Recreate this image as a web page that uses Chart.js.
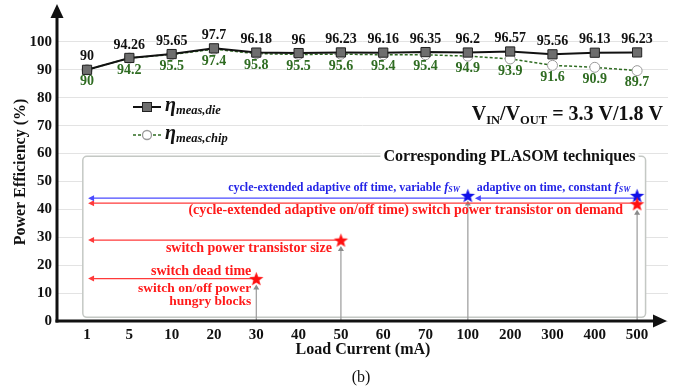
<!DOCTYPE html>
<html><head><meta charset="utf-8">
<script src="https://cdn.jsdelivr.net/npm/chart.js@4"></script>
<style>html,body{margin:0;padding:0;background:#fff;}#wrap{width:681px;height:389px;position:relative;}</style>
</head><body><div id="wrap"><canvas id="c" width="681" height="389" style="width:681px;height:389px"></canvas></div>
<script>
// ---- data ----
const categories = ['1','5','10','20','30','40','50','60','70','100','200','300','400','500'];
const dieValues  = [90,94.26,95.65,97.7,96.18,96,96.23,96.16,96.35,96.2,96.57,95.56,96.13,96.23];
const chipValues = [90,94.2,95.5,97.4,95.8,95.5,95.6,95.4,95.4,94.9,93.9,91.6,90.9,89.7];
const yTickValues = [0,10,20,30,40,50,60,70,80,90,100];
// PLASOM technique markers (stars)
const techCategory = ['30','50','100','500','500'];
const techValue    = [15.2,29,45,45,42];
const techGroup    = ['power','power','timing','timing','power'];
// horizontal arrows
const arrowFrom  = ['30','50','500','100','500'];
const arrowTo    = ['1','1','1','1','100'];
const arrowLevel = [15.2,29,42.2,44,44];
const arrowGroup = ['power','power','power','timing','timing'];

const SERIF = '"Liberation Serif","DejaVu Serif",serif';
const RED = '#ff1a1a', BLUE = '#2424e6', GREEN = '#2f6c22';

function makeStar(color, r){
  const c = document.createElement('canvas');
  c.width = c.height = Math.ceil(2*r+2);
  const g = c.getContext('2d');
  const cx = c.width/2, cy = c.height/2 + r*0.1;
  g.beginPath();
  for(let i=0;i<10;i++){
    const rr = i%2===0 ? r : r*0.42;
    const a = -Math.PI/2 + i*Math.PI/5;
    const px = cx + rr*Math.cos(a), py = cy + rr*Math.sin(a);
    i===0 ? g.moveTo(px,py) : g.lineTo(px,py);
  }
  g.closePath(); g.fillStyle = color; g.fill();
  return c;
}
const redStar = makeStar('#ff1010', 7.5);
const blueStar = makeStar('#1010e8', 7.5);

function rich(ctx, segs, x, y, align){
  let w = 0;
  segs.forEach(s=>{ctx.font = s.f; s.w = ctx.measureText(s.t).width; w += s.w;});
  let cx = align==='right' ? x - w : (align==='center' ? x - w/2 : x);
  ctx.textAlign = 'left';
  segs.forEach(s=>{ctx.font = s.f; ctx.fillText(s.t, cx, y + (s.dy||0)); cx += s.w;});
  return w;
}
function arrowHead(ctx, x, y, dir, len, half, color){
  ctx.fillStyle = color; ctx.beginPath();
  if(dir==='left'){ctx.moveTo(x,y);ctx.lineTo(x+len,y-half);ctx.lineTo(x+len,y+half);}
  else if(dir==='up'){ctx.moveTo(x,y);ctx.lineTo(x-half,y+len);ctx.lineTo(x+half,y+len);}
  else if(dir==='right'){ctx.moveTo(x,y);ctx.lineTo(x-len,y-half);ctx.lineTo(x-len,y+half);}
  ctx.closePath(); ctx.fill();
}
const idx = c => categories.indexOf(c);

const decor = {
  id:'decor',
  beforeDatasetsDraw(chart){
    const {ctx} = chart; const xs = chart.scales.x, ys = chart.scales.y;
    // box
    const L = xs.getPixelForValue(-0.1), R = xs.getPixelForValue(13.2);
    const T = ys.getPixelForValue(59), B = ys.getPixelForValue(1.3);
    ctx.save();
    ctx.fillStyle = '#fff'; ctx.strokeStyle = '#c4c8c4'; ctx.lineWidth = 1.5;
    ctx.beginPath(); ctx.roundRect(L,T,R-L,B-T,4); ctx.fill(); ctx.stroke();
    ctx.font = 'bold 16px '+SERIF;
    const title = 'Corresponding PLASOM techniques';
    const tw = ctx.measureText(title).width;
    ctx.fillStyle = '#fff'; ctx.fillRect(R-10-tw-3, T-8, tw+6, 16);
    ctx.fillStyle = '#111'; ctx.textAlign = 'right'; ctx.textBaseline = 'middle';
    ctx.fillText(title, R-10, T+1);
    // vertical gray arrows
    ctx.strokeStyle = '#9a9a9a'; ctx.lineWidth = 1.2;
    const vTargets = [['30',15.2],['50',29],['100',45],['500',42]];
    vTargets.forEach(([c,v])=>{
      const px = xs.getPixelForValue(idx(c));
      const tip = ys.getPixelForValue(v) + (c==='100'?5:6);
      ctx.beginPath(); ctx.moveTo(px, ys.bottom); ctx.lineTo(px, tip+4); ctx.stroke();
      arrowHead(ctx, px, tip, 'up', 5, 3, '#8a8a8a');
    });
    // horizontal arrows
    arrowFrom.forEach((f,i)=>{
      const col = arrowGroup[i]==='timing' ? '#4a4aff' : '#ff3a3a';
      const x1 = xs.getPixelForValue(idx(f)), x0 = xs.getPixelForValue(idx(arrowTo[i]));
      const py = ys.getPixelForValue(arrowLevel[i]);
      const tipX = arrowTo[i]==='1' ? x0+1 : x0+7;
      ctx.strokeStyle = col; ctx.lineWidth = 1.3;
      ctx.beginPath(); ctx.moveTo(x1, py); ctx.lineTo(tipX+5, py); ctx.stroke();
      arrowHead(ctx, tipX, py, 'left', 6, 3, col);
    });
    ctx.restore();
  },
  afterDatasetsDraw(chart){
    const {ctx} = chart; const xs = chart.scales.x, ys = chart.scales.y;
    ctx.save();
    ctx.textBaseline = 'middle';
    // data labels
    ctx.font = 'bold 14px '+SERIF; ctx.textAlign = 'center';
    dieValues.forEach((v,i)=>{
      ctx.fillStyle = '#111';
      ctx.fillText(String(v), xs.getPixelForValue(i), ys.getPixelForValue(v)-13);
    });
    chipValues.forEach((v,i)=>{
      ctx.fillStyle = GREEN;
      ctx.fillText(String(v), xs.getPixelForValue(i), ys.getPixelForValue(v)+12);
    });
    // annotation texts
    const p = (c,v)=>({x:xs.getPixelForValue(idx(c)), y:ys.getPixelForValue(v)});
    const s100 = p('100',45), s500 = p('500',42), s50 = p('50',29), s30 = p('30',15.2);
    ctx.fillStyle = BLUE;
    const bf = 'bold 12px '+SERIF, bfi = 'italic bold 12.5px '+SERIF, bsub = 'italic bold 8px '+SERIF;
    const by = ys.getPixelForValue(44) - 10;
    rich(ctx,[{t:'cycle-extended adaptive off time, variable ',f:bf},{t:'f',f:bfi},{t:'SW',f:bsub,dy:2}], s100.x-8, by, 'right');
    rich(ctx,[{t:'adaptive on time, constant ',f:bf},{t:'f',f:bfi},{t:'SW',f:bsub,dy:2}], s100.x+9, by, 'left');
    ctx.fillStyle = RED; ctx.textAlign = 'right';
    ctx.font = 'bold 14px '+SERIF;
    ctx.fillText('(cycle-extended adaptive on/off time) switch power transistor on demand', s500.x-14, ys.getPixelForValue(42.2)+7);
    ctx.fillText('switch power transistor size', s50.x-9, s50.y+8);
    ctx.fillText('switch dead time', s30.x-5, s30.y-7);
    ctx.font = 'bold 13.5px '+SERIF;
    ctx.fillText('switch on/off power', s30.x-5, s30.y+10);
    ctx.fillText('hungry blocks', s30.x-5, s30.y+22.5);
    // legend
    ctx.strokeStyle = '#111'; ctx.lineWidth = 2;
    ctx.beginPath(); ctx.moveTo(133,107); ctx.lineTo(161,107); ctx.stroke();
    ctx.fillStyle = '#6e6e6e'; ctx.strokeStyle = '#222'; ctx.lineWidth = 1;
    ctx.fillRect(142.5,102.5,9,9); ctx.strokeRect(142.5,102.5,9,9);
    ctx.strokeStyle = GREEN; ctx.lineWidth = 1.3; ctx.setLineDash([3,2]);
    ctx.beginPath(); ctx.moveTo(133,135); ctx.lineTo(161,135); ctx.stroke(); ctx.setLineDash([]);
    ctx.fillStyle = '#fff'; ctx.strokeStyle = '#999'; ctx.beginPath(); ctx.arc(147,135,4.5,0,Math.PI*2); ctx.fill(); ctx.stroke();
    ctx.fillStyle = '#111'; ctx.textBaseline = 'alphabetic';
    const ef = 'italic bold 20px '+SERIF, es = 'italic bold 12.5px '+SERIF;
    rich(ctx,[{t:'η',f:ef},{t:'meas,die',f:es,dy:3}],165,111,'left');
    rich(ctx,[{t:'η',f:ef},{t:'meas,chip',f:es,dy:3}],165,139,'left');
    // Vin/Vout
    const vf = 'bold 20px '+SERIF, vs = 'bold 12.5px '+SERIF;
    rich(ctx,[{t:'V',f:vf},{t:'IN',f:vs,dy:4},{t:'/V',f:vf},{t:'OUT',f:vs,dy:4},{t:' = 3.3 V/1.8 V',f:vf}],663,120,'right');
    // axes with arrows
    const L = xs.left, Bt = ys.bottom;
    ctx.strokeStyle = '#111'; ctx.lineWidth = 3;
    ctx.beginPath(); ctx.moveTo(L, Bt+1.5); ctx.lineTo(L, 16); ctx.stroke();
    ctx.beginPath(); ctx.moveTo(L-1.5, Bt); ctx.lineTo(654, Bt); ctx.stroke();
    arrowHead(ctx, L, 4, 'up', 14, 6.5, '#111');
    arrowHead(ctx, 667, Bt, 'right', 14, 6.5, '#111');
    // axis titles
    ctx.fillStyle = '#111'; ctx.textAlign = 'center'; ctx.textBaseline = 'middle';
    ctx.font = 'bold 16px '+SERIF;
    ctx.fillText('Load Current (mA)', 363, 350);
    ctx.save(); ctx.translate(21,172); ctx.rotate(-Math.PI/2);
    ctx.fillText('Power Efficiency (%)', 0, 0); ctx.restore();
    ctx.font = '16px '+SERIF; ctx.fillText('(b)', 361, 378);
    ctx.restore();
  }
};

new Chart(document.getElementById('c'), {
  type:'line',
  data:{
    datasets:[
      {label:'die', data: dieValues.map((v,i)=>({x:i,y:v})), borderColor:'#111', borderWidth:2,
       pointStyle:'rect', pointRadius:6.5, pointBackgroundColor:'#6e6e6e', pointBorderColor:'#222', pointBorderWidth:1, order:1},
      {label:'chip', data: chipValues.map((v,i)=>({x:i,y:v})), borderColor:GREEN, borderWidth:1.5, borderDash:[3,2],
       pointStyle:'circle', pointRadius:5, pointBackgroundColor:'#fff', pointBorderColor:'#9a9a9a', pointBorderWidth:1, order:2},
      {label:'tech', data: techCategory.map((c,i)=>({x:idx(c), y:techValue[i]})), showLine:false,
       pointStyle: ctx => techGroup[ctx.dataIndex]==='timing' ? blueStar : redStar, pointRadius:8, order:0}
    ]
  },
  options:{
    responsive:false, animation:false, events:[],
    devicePixelRatio:1,
    layout:{padding:{top:10,right:13,left:0,bottom:0}},
    plugins:{legend:{display:false},tooltip:{enabled:false}},
    scales:{
      x:{type:'linear', min:-0.71, max:13.73,
         afterBuildTicks: s => { s.ticks = categories.map((_,i)=>({value:i})); },
         afterFit: s => { s.height = 68; },
         grid:{display:false, drawTicks:false}, border:{display:false},
         ticks:{autoSkip:false, maxRotation:0, padding:5, color:'#111', font:{family:SERIF, weight:'bold', size:15},
                callback: v => categories[v]}},
      y:{min:0, max:110,
         afterBuildTicks: s => { s.ticks = yTickValues.map(v=>({value:v})); },
         afterFit: s => { s.width = 57; },
         grid:{color:'#e3e3e3', drawTicks:false, lineWidth:1}, border:{display:false},
         ticks:{padding:5, color:'#111', font:{family:SERIF, weight:'bold', size:15}}}
    }
  },
  plugins:[decor]
});
</script>
</body></html>
